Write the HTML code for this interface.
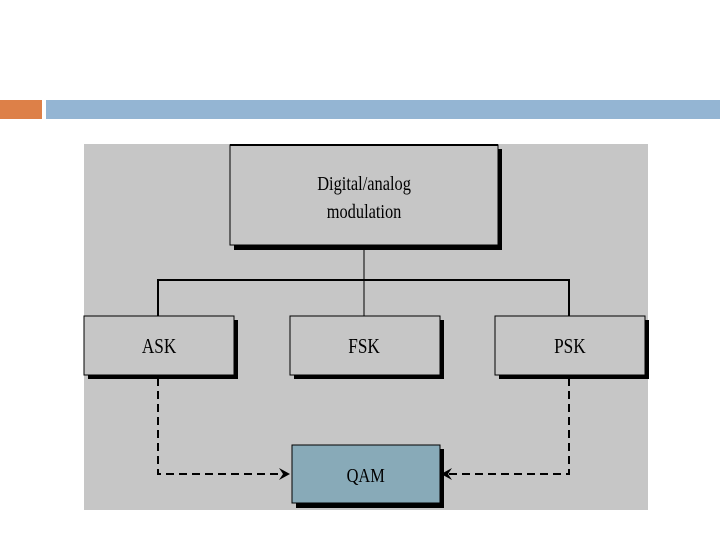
<!DOCTYPE html>
<html><head><style>body{margin:0;width:720px;height:540px;background:#fff;overflow:hidden}</style></head>
<body>
<svg width="720" height="540" xmlns="http://www.w3.org/2000/svg" style="position:absolute;left:0;top:0">
<rect x="0" y="100" width="42" height="19" fill="#dd8048"/>
<rect x="46" y="100" width="674" height="19" fill="#94b5d3"/>
<rect x="84" y="144" width="564" height="366" fill="#c6c6c6"/>
<g stroke="#000" fill="none">
<line x1="364" y1="246" x2="364" y2="316" stroke-width="1"/>
<polyline points="158,316 158,280 569,280 569,316" stroke-width="2"/>
<polyline points="158,378 158,474 283,474" stroke-width="2" stroke-dasharray="8,5"/>
<polyline points="569,378 569,474 448,474" stroke-width="2" stroke-dasharray="8,5"/>
</g>
<path d="M290,474 L279,468 L283,474 L279,480 Z" fill="#000"/>
<path d="M441,474 L452,468 L448,474 L452,480 Z" fill="#000"/>
<g font-family="Liberation Serif, serif" text-anchor="middle" fill="#000">
<rect x="234" y="149" width="268" height="101" fill="#000"/>
<rect x="230" y="145" width="268" height="100" fill="#c6c6c6" stroke="#000" stroke-width="1"/>
<line x1="230" y1="145" x2="498" y2="145" stroke="#000" stroke-width="2"/>
<text x="364" y="190" transform="scale(0.82,1) translate(80,0)" font-size="20">Digital/analog</text>
<text x="364" y="218" transform="scale(0.82,1) translate(80,0)" font-size="20">modulation</text>
<rect x="88" y="320" width="150" height="59" fill="#000"/>
<rect x="84" y="316" width="150" height="59" fill="#c6c6c6" stroke="#000"/>
<text x="159" y="353" transform="scale(0.82,1) translate(35,0)" font-size="21">ASK</text>
<rect x="294" y="320" width="150" height="59" fill="#000"/>
<rect x="290" y="316" width="150" height="59" fill="#c6c6c6" stroke="#000"/>
<text x="364" y="353" transform="scale(0.82,1) translate(80,0)" font-size="21">FSK</text>
<rect x="499" y="320" width="150" height="59" fill="#000"/>
<rect x="495" y="316" width="150" height="59" fill="#c6c6c6" stroke="#000"/>
<text x="570" y="353" transform="scale(0.82,1) translate(125,0)" font-size="21">PSK</text>
<rect x="296" y="449" width="148" height="59" fill="#000"/>
<rect x="292" y="445" width="148" height="58" fill="#88aab8" stroke="#000"/>
<text x="366" y="482" transform="scale(0.82,1) translate(80,0)" font-size="20">QAM</text>
</g>
</svg>
</body></html>
